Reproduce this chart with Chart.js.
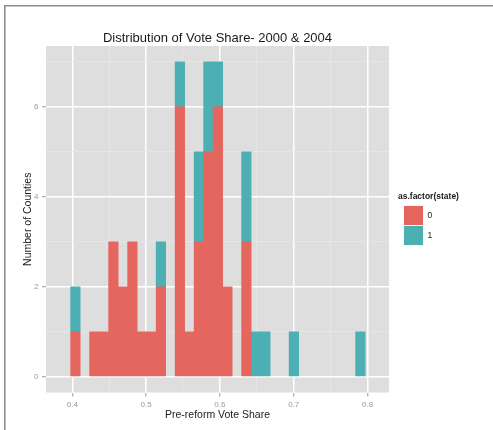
<!DOCTYPE html>
<html>
<head>
<meta charset="utf-8">
<title>Distribution of Vote Share- 2000 &amp; 2004</title>
<script src="https://cdn.jsdelivr.net/npm/chart.js@4.4.1/dist/chart.umd.min.js"></script>
<style>
  html, body { margin: 0; padding: 0; background: #ffffff; }
  #wrap { width: 493px; height: 430px; }
</style>
</head>
<body>
<div id="wrap"><canvas id="chart" width="493" height="430"></canvas></div>
<script>
// Histogram bins: centre of each bin on the vote-share axis
const binCenters = [
  0.40424, 0.41711, 0.42998, 0.44285, 0.45572, 0.46859, 0.48146, 0.49433,
  0.50720, 0.52007, 0.53294, 0.54581, 0.55868, 0.57155, 0.58442, 0.59729,
  0.61016, 0.62303, 0.63590, 0.64877, 0.66164, 0.67451, 0.68738, 0.70025,
  0.71312, 0.72599, 0.73886, 0.75173, 0.76460, 0.77747, 0.79034
];
// Counties per bin, state == 0
const countsState0 = [
  1, 0, 1, 1, 3, 2, 3, 1, 1, 2, 0, 6, 1, 3, 5, 6,
  2, 0, 3, 0, 0, 0, 0, 0, 0, 0, 0, 0, 0, 0, 0
];
// Counties per bin, state == 1
const countsState1 = [
  1, 0, 0, 0, 0, 0, 0, 0, 0, 1, 0, 1, 0, 2, 2, 1,
  0, 0, 2, 1, 1, 0, 0, 1, 0, 0, 0, 0, 0, 0, 1
];
const seriesNames = ['0', '1'];
const legendTitle = 'as.factor(state)';
const xTicks = [0.4, 0.45, 0.5, 0.55, 0.6, 0.65, 0.7, 0.75, 0.8];
const yTicks = [0, 1, 2, 3, 4, 5, 6, 7];

const FONT = "'Liberation Sans', Arial, Helvetica, sans-serif";
const COLORS = ['#E5655F', '#4BAFB3'];
const PANEL_BG = '#DEDEDE';

const isMajorX = v => Math.abs(Math.round(v * 10) - v * 10) < 1e-6;
const isMajorY = v => v % 2 === 0;
const tickVal = c => (c && c.tick) ? c.tick.value : 0;

// empty bins get no bar at all
function toPoints(counts) {
  return binCenters.map((x, i) => ({ x: x, y: counts[i] === 0 ? null : counts[i] }));
}

const panelAndDecor = {
  id: 'panelAndDecor',
  beforeDraw(chart) {
    const { ctx, chartArea: a } = chart;
    ctx.save();
    ctx.fillStyle = '#ffffff';
    ctx.fillRect(0, 0, chart.width, chart.height);
    ctx.fillStyle = PANEL_BG;
    ctx.fillRect(a.left, a.top, a.right - a.left, a.bottom - a.top);
    ctx.restore();
  },
  afterDraw(chart) {
    const { ctx, chartArea: a } = chart;
    ctx.save();
    // frame around the figure (top and left edges)
    ctx.strokeStyle = '#8e8e8e';
    ctx.lineWidth = 1.6;
    ctx.beginPath();
    ctx.moveTo(4.8, chart.height);
    ctx.lineTo(4.8, 5.8);
    ctx.lineTo(chart.width, 5.8);
    ctx.stroke();

    // plot title
    ctx.fillStyle = '#1a1a1a';
    ctx.font = '13px ' + FONT;
    ctx.textAlign = 'center';
    ctx.textBaseline = 'middle';
    ctx.fillText('Distribution of Vote Share- 2000 & 2004', (a.left + a.right) / 2, 38);

    // legend
    const lx = 398, ly = 197;
    ctx.textAlign = 'left';
    ctx.font = 'bold 8.5px ' + FONT;
    ctx.fillStyle = '#1a1a1a';
    ctx.fillText(legendTitle, lx, ly);
    const keyX = 403.5, keyW = 20, keyH = 20, keyTop = 205.5;
    seriesNames.forEach((name, i) => {
      const top = keyTop + i * keyH;
      ctx.fillStyle = '#f2f2f2';
      ctx.fillRect(keyX, top, keyW, keyH);
      ctx.fillStyle = COLORS[i];
      ctx.fillRect(keyX + 0.5, top + 0.5, keyW - 1, keyH - 1);
      ctx.fillStyle = '#1a1a1a';
      ctx.font = '8.5px ' + FONT;
      ctx.fillText(name, keyX + keyW + 4, top + keyH / 2);
    });
    ctx.restore();
  }
};

new Chart(document.getElementById('chart'), {
  type: 'bar',
  data: {
    datasets: [
      { label: seriesNames[0], data: toPoints(countsState0), backgroundColor: COLORS[0] },
      { label: seriesNames[1], data: toPoints(countsState1), backgroundColor: COLORS[1] }
    ]
  },
  options: {
    responsive: false,
    animation: false,
    devicePixelRatio: 1,
    layout: { padding: { top: 46, right: 104, bottom: 0, left: 0 } },
    datasets: {
      bar: { barPercentage: 1, categoryPercentage: 1, borderWidth: 0, borderSkipped: false }
    },
    plugins: {
      legend: { display: false },
      title: { display: false },
      tooltip: { enabled: false }
    },
    scales: {
      x: {
        type: 'linear',
        stacked: true,
        offset: false,
        min: 0.3644,
        max: 0.8291,
        afterFit(scale) { scale.height = 37.5; },
        afterBuildTicks(scale) { scale.ticks = xTicks.map(v => ({ value: v })); },
        border: { display: false },
        grid: {
          offset: false,
          color: c => isMajorX(tickVal(c)) ? '#ffffff' : '#E9E9E9',
          lineWidth: c => isMajorX(tickVal(c)) ? 1.5 : 0.7,
          tickColor: c => isMajorX(tickVal(c)) ? '#9a9a9a' : 'rgba(0,0,0,0)',
          tickLength: 4,
          tickWidth: 1
        },
        ticks: {
          autoSkip: false,
          maxRotation: 0,
          padding: 3,
          color: '#9a9a9a',
          font: { family: FONT, size: 8 },
          callback: v => isMajorX(v) ? v.toFixed(1) : ''
        },
        title: {
          display: true,
          text: 'Pre-reform Vote Share',
          color: '#1a1a1a',
          font: { family: FONT, size: 10.5 },
          padding: { top: 0, bottom: 8.7 }
        }
      },
      y: {
        type: 'linear',
        stacked: true,
        min: -0.35,
        max: 7.35,
        afterFit(scale) { scale.width = 46; },
        afterBuildTicks(scale) { scale.ticks = yTicks.map(v => ({ value: v })); },
        border: { display: false },
        grid: {
          color: c => isMajorY(tickVal(c)) ? '#ffffff' : '#E9E9E9',
          lineWidth: c => isMajorY(tickVal(c)) ? 1.5 : 0.7,
          tickColor: c => isMajorY(tickVal(c)) ? '#9a9a9a' : 'rgba(0,0,0,0)',
          tickLength: 4,
          tickWidth: 1
        },
        ticks: {
          autoSkip: false,
          padding: 3.5,
          color: '#9a9a9a',
          font: { family: FONT, size: 8 },
          callback: v => isMajorY(v) ? String(v) : ''
        },
        title: {
          display: true,
          text: 'Number of Counties',
          color: '#1a1a1a',
          font: { family: FONT, size: 10.5 },
          padding: { top: 21.4, bottom: 0 }
        }
      }
    }
  },
  plugins: [panelAndDecor]
});
</script>
</body>
</html>
